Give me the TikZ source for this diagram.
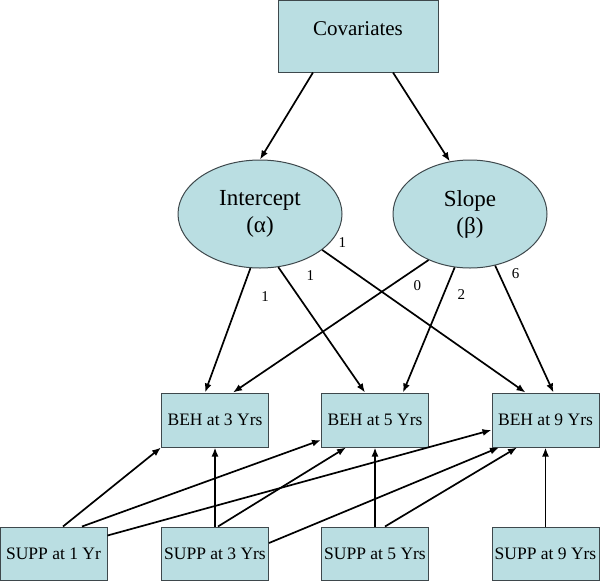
\documentclass[tikz,border=0pt]{standalone}
\usepackage{fontspec}
\setmainfont{Liberation Serif}
\usetikzlibrary{shapes.geometric,arrows.meta}
\definecolor{boxfill}{RGB}{186,222,226}
\definecolor{boxline}{RGB}{62,72,76}

\begin{document}
\begin{tikzpicture}[x=1pt, y=-1pt, >={Latex[length=9pt,width=7pt]},
    box/.style={draw=boxline, fill=boxfill, line width=1pt, inner sep=0pt,
      minimum width=107pt, minimum height=54pt, font=\fontsize{17.5}{20}\selectfont},
    lat/.style={ellipse, draw=boxline, fill=boxfill, line width=1pt, inner sep=0pt,
      minimum width=164pt, minimum height=108pt, align=center,
      font=\fontsize{23}{27}\selectfont},
    wt/.style={font=\fontsize{15}{17}\selectfont, inner sep=0pt},
    arr/.style={->, line width=1.7pt}]
      \useasboundingbox (0,0) rectangle (600,582);

      \node[box, minimum width=160pt, minimum height=72pt, text depth=14pt,
        font=\fontsize{21}{24}\selectfont] (cov) at (358, 36) {Covariates};
      \node[lat] (int) at (260, 214) {Intercept\\(α)};
      \node[lat, minimum width=154pt] (slp) at (470, 214) {Slope\\(β)};

      \node[box] (beh3) at (215, 420) {BEH at 3 Yrs};
      \node[box] (beh5) at (375, 420) {BEH at 5 Yrs};
      \node[box] (beh9) at (545.5, 420) {BEH at 9 Yrs};

      \node[box, minimum height=53pt] (supp1) at (53.5, 553.5) {SUPP at 1 Yr};
      \node[box, minimum height=53pt] (supp3) at (215, 553.5) {SUPP at 3 Yrs};
      \node[box, minimum height=53pt] (supp5) at (375, 553.5) {SUPP at 5 Yrs};
      \node[box, minimum height=53pt] (supp9) at (545.5, 553.5) {SUPP at 9 Yrs};

      \draw[arr] ([xshift=-45pt]cov.south) to (int.north);
      \draw[arr] ([xshift=35pt]cov.south) to (slp.111);

      \draw[arr] (int.260) to node[wt, pos=0.23, xshift=25pt]{1} ([xshift=-10pt]beh3.north);
      \draw[arr] (int.289) to node[wt, pos=0.07, xshift=26pt]{1} ([xshift=-10pt]beh5.north);
      \draw[arr] (int.330) to node[wt, pos=0.1, yshift=22pt]{1} ([xshift=-20pt]beh9.north);
      \draw[arr] (slp.228) to node[wt, pos=0.19, xshift=26pt]{0} ([xshift=18pt]beh3.north);
      \draw[arr] (slp.254) to node[wt, pos=0.22, xshift=18pt]{2} ([xshift=28pt]beh5.north);
      \draw[arr] (slp.296) to node[wt, pos=0.06, xshift=17pt]{6} ([xshift=8pt]beh9.north);

      \draw[arr] ([xshift=9.5pt]supp1.north) to (beh3.south west);
      \draw[arr] ([xshift=28.5pt]supp1.north) to ([yshift=-20pt]beh5.west);
      \draw[arr] ([yshift=18pt]supp1.east) to ([yshift=-10pt]beh9.west);
      \draw[arr] (supp3.north) to (beh3.south);
      \draw[arr] ([xshift=3pt]supp3.north) to ([xshift=-29pt]beh5.south);
      \draw[arr] ([yshift=10.5pt]supp3.east) to ([xshift=-46.5pt]beh9.south);
      \draw[arr] (supp5.north) to (beh5.south);
      \draw[arr] ([xshift=10pt]supp5.north) to ([xshift=-28.5pt]beh9.south);
      \draw[arr] (supp9.north) to (beh9.south);
    \end{tikzpicture}
\end{document}
